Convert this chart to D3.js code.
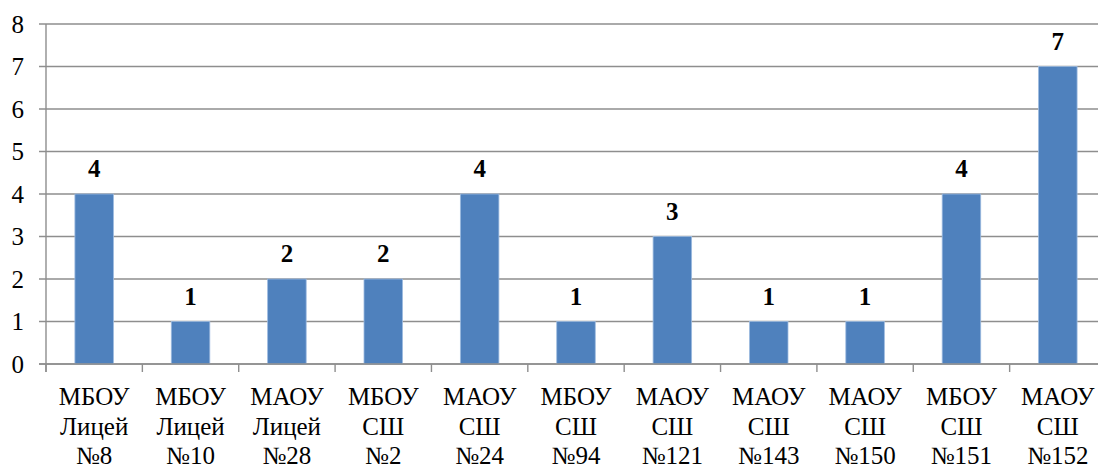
<!DOCTYPE html>
<html>
<head>
<meta charset="utf-8">
<script src="https://cdn.jsdelivr.net/npm/d3@7"></script>
<style>
  html, body { margin: 0; padding: 0; background: #fff; }
  svg { display: block; }
</style>
</head>
<body>
<svg id="chart" width="1098" height="468"></svg>
<script>
// School names, split into lines for the category axis
const schoolType = ["МБОУ", "МБОУ", "МАОУ", "МБОУ", "МАОУ", "МБОУ", "МАОУ", "МАОУ", "МАОУ", "МБОУ", "МАОУ"];
const schoolKind = ["Лицей", "Лицей", "Лицей", "СШ", "СШ", "СШ", "СШ", "СШ", "СШ", "СШ", "СШ"];
const schoolNum  = ["№8", "№10", "№28", "№2", "№24", "№94", "№121", "№143", "№150", "№151", "№152"];
const counts     = [4, 1, 2, 2, 4, 1, 3, 1, 1, 4, 7];
const yTicks     = [0, 1, 2, 3, 4, 5, 6, 7, 8];

const categories = schoolNum.map((n, i) => `${schoolType[i]} ${schoolKind[i]} ${n}`);

const svg = d3.select("#chart");
const plotLeft = 46, plotRight = 1106, plotTop = 24, plotBottom = 364;

const x = d3.scaleBand().domain(categories).range([plotLeft, plotRight])
  .paddingInner(0.6).paddingOuter(0.3);
const y = d3.scaleLinear().domain([0, 8]).range([plotBottom, plotTop]);

const gridColor = "#8e8e8e";
const serif = '"Liberation Serif", "Times New Roman", serif';
const fontSize = 25;

// horizontal gridlines with short ticks left of the axis
svg.append("g").selectAll("line").data(yTicks).join("line")
  .attr("x1", plotLeft - 7).attr("x2", plotRight)
  .attr("y1", d => y(d)).attr("y2", d => y(d))
  .attr("stroke", gridColor).attr("stroke-width", 1.4);

// y tick labels
svg.append("g").selectAll("text").data(yTicks).join("text")
  .attr("x", 24).attr("y", d => y(d)).attr("dy", "0.35em")
  .attr("text-anchor", "end")
  .style("font-family", serif).style("font-size", fontSize + "px")
  .attr("fill", "#000")
  .text(d => d);

// bars
svg.append("g").selectAll("rect").data(counts).join("rect")
  .attr("x", (d, i) => x(categories[i]))
  .attr("width", x.bandwidth())
  .attr("y", d => y(d))
  .attr("height", d => y(0) - y(d))
  .attr("fill", "#4f81bd")
  .attr("stroke", "#9dbbe0").attr("stroke-width", 0.8);

// vertical axis line
svg.append("line")
  .attr("x1", plotLeft).attr("x2", plotLeft).attr("y1", plotTop).attr("y2", plotBottom + 8)
  .attr("stroke", gridColor).attr("stroke-width", 1.4);

// baseline over the bars
svg.append("line")
  .attr("x1", plotLeft - 7).attr("x2", plotRight).attr("y1", plotBottom).attr("y2", plotBottom)
  .attr("stroke", gridColor).attr("stroke-width", 1.4);

// category boundary ticks
const bounds = d3.range(categories.length + 1)
  .map(k => plotLeft + k * (plotRight - plotLeft) / categories.length);
svg.append("g").selectAll("line").data(bounds).join("line")
  .attr("x1", d => d).attr("x2", d => d)
  .attr("y1", plotBottom).attr("y2", plotBottom + 8)
  .attr("stroke", gridColor).attr("stroke-width", 1.4);

// value labels
svg.append("g").selectAll("text").data(counts).join("text")
  .attr("x", (d, i) => x(categories[i]) + x.bandwidth() / 2)
  .attr("y", d => y(d) - 17)
  .attr("text-anchor", "middle")
  .style("font-family", serif).style("font-size", fontSize + "px")
  .style("font-weight", "bold")
  .attr("fill", "#000")
  .text(d => d);

// category labels, three lines each
const labels = svg.append("g").selectAll("text").data(categories).join("text")
  .attr("text-anchor", "middle")
  .style("font-family", serif).style("font-size", fontSize + "px")
  .attr("fill", "#000");
labels.each(function (d, i) {
  const cx = x(d) + x.bandwidth() / 2;
  const lines = [schoolType[i], schoolKind[i], schoolNum[i]];
  d3.select(this).selectAll("tspan").data(lines).join("tspan")
    .attr("x", cx).attr("y", (t, j) => 405 + j * 29.5)
    .text(t => t);
});
</script>
</body>
</html>
